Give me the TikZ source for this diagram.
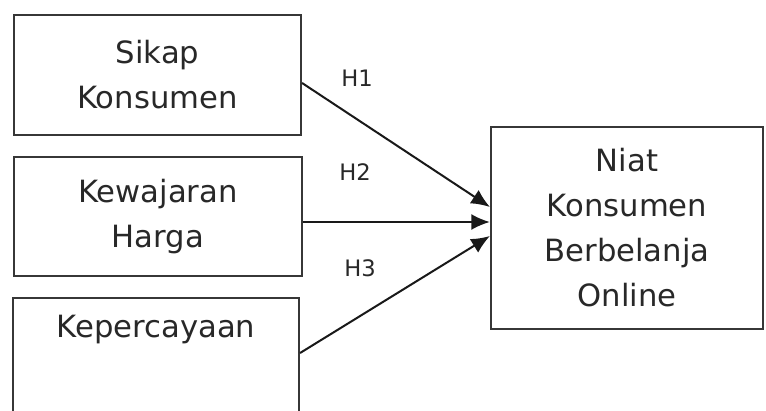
\documentclass[tikz,border=0pt]{standalone}
\usepackage{fontspec}
\setmainfont{DejaVu Sans}
\usetikzlibrary{arrows.meta,calc}

\definecolor{lineGray}{RGB}{55,55,55}
\definecolor{textGray}{RGB}{40,40,40}

\tikzset{
  varbox/.style={draw=lineGray, line width=1.6pt, rectangle, align=center,
    text=textGray, font=\fontsize{23}{33.75}\selectfont},
  varlabel/.style={text=textGray, font=\fontsize{17}{20}\selectfont, inner sep=0pt},
  hyparrow/.style={draw=black!90, line width=1.5pt, -{Latex[length=14pt,width=12pt]}}
}

\begin{document}
\begin{tikzpicture}[x=0.75pt,y=0.75pt,yscale=-1,xscale=1]
        \clip (0,0) rectangle (766,410);
        \fill[white] (0,0) rectangle (766,410);

        % variabel bebas
        \node [varbox, minimum width=215.25pt, minimum height=90pt] (sikap) at (157.5,75) {Sikap\\Konsumen};
        \node [varbox, minimum width=216pt, minimum height=89.25pt] (harga) at (158,216.5) {Kewajaran\\Harga};
        \node [varbox, minimum width=214.5pt, minimum height=91.5pt] (percaya) at (156,359) {};
        \node [varbox, draw=none, anchor=center] (percayatxt) at (156,330) {Kepercayaan};

        % variabel terikat
        \node [varbox, minimum width=204pt, minimum height=151.5pt] (niat) at (627,228) {Niat\\Konsumen\\Berbelanja\\Online};

        % hipotesis
        \draw [hyparrow] ($(sikap.east)+(0,8)$) -- ($(niat.west)+(0,-21)$);
        \draw [hyparrow] ($(harga.east)+(0,5.5)$) -- ($(niat.west)+(0,-6)$);
        \draw [hyparrow] ($(percaya.east)+(0,-6)$) -- ($(niat.west)+(0,8)$);

        \node [varlabel] (h1) at (357,78) {H1};
        \node [varlabel] (h2) at (355,172) {H2};
        \node [varlabel] (h3) at (360,268) {H3};
\end{tikzpicture}
\end{document}
